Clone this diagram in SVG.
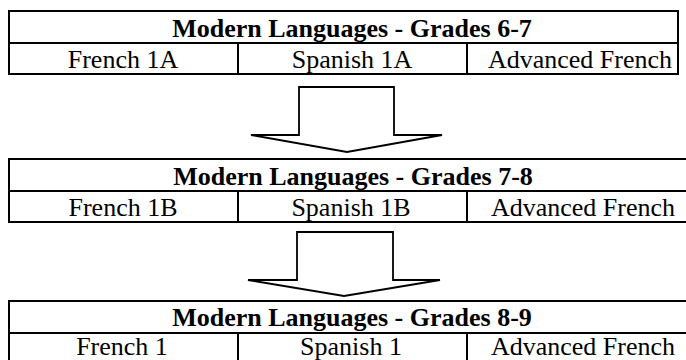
<svg xmlns="http://www.w3.org/2000/svg" width="686" height="360" viewBox="0 0 686 360">
<style>
.box{fill:#fff;stroke:#000;stroke-width:2}
.ln{stroke:#000;stroke-width:2;fill:none}
.t{font-family:"Liberation Serif","Times New Roman",serif;font-size:26px;fill:#000;text-anchor:middle}
.b{font-weight:bold}
.arr{fill:#fff;stroke:#000;stroke-width:1.8;stroke-linejoin:miter}
</style>
<rect width="686" height="360" fill="#fff"/>
<g id="grades-6-7">
<rect class="box" x="9" y="11" width="669" height="63"/>
<line class="ln" x1="9" y1="43" x2="678" y2="43"/>
<line class="ln" x1="238" y1="43" x2="238" y2="74"/>
<line class="ln" x1="467" y1="43" x2="467" y2="74"/>
<text class="t b" x="352" y="37">Modern Languages - Grades 6-7</text>
<text class="t" x="123" y="68">French 1A</text>
<text class="t" x="352" y="68">Spanish 1A</text>
<text class="t" x="580" y="68">Advanced French</text>
</g>
<g id="grades-7-8">
<rect class="box" x="9" y="159" width="690" height="63"/>
<line class="ln" x1="9" y1="191" x2="699" y2="191"/>
<line class="ln" x1="238" y1="191" x2="238" y2="222"/>
<line class="ln" x1="467" y1="191" x2="467" y2="222"/>
<text class="t b" x="353" y="185">Modern Languages - Grades 7-8</text>
<text class="t" x="123" y="216">French 1B</text>
<text class="t" x="351" y="216">Spanish 1B</text>
<text class="t" x="583" y="216">Advanced French</text>
</g>
<g id="grades-8-9">
<rect class="box" x="9" y="301" width="690" height="70"/>
<line class="ln" x1="9" y1="333" x2="699" y2="333"/>
<line class="ln" x1="238" y1="333" x2="238" y2="371"/>
<line class="ln" x1="467" y1="333" x2="467" y2="371"/>
<text class="t b" x="352" y="326">Modern Languages - Grades 8-9</text>
<text class="t" x="122" y="355">French 1</text>
<text class="t" x="351" y="355">Spanish 1</text>
<text class="t" x="583" y="355">Advanced French</text>
</g>
<g id="connectors">
<path class="arr" d="M299,87 H394 V135 H442 L347,152 L251,135 H299 Z"/>
<path class="arr" d="M297,232 H393 V280 H440 L344,296 L248,280 H297 Z"/>
</g>
</svg>
